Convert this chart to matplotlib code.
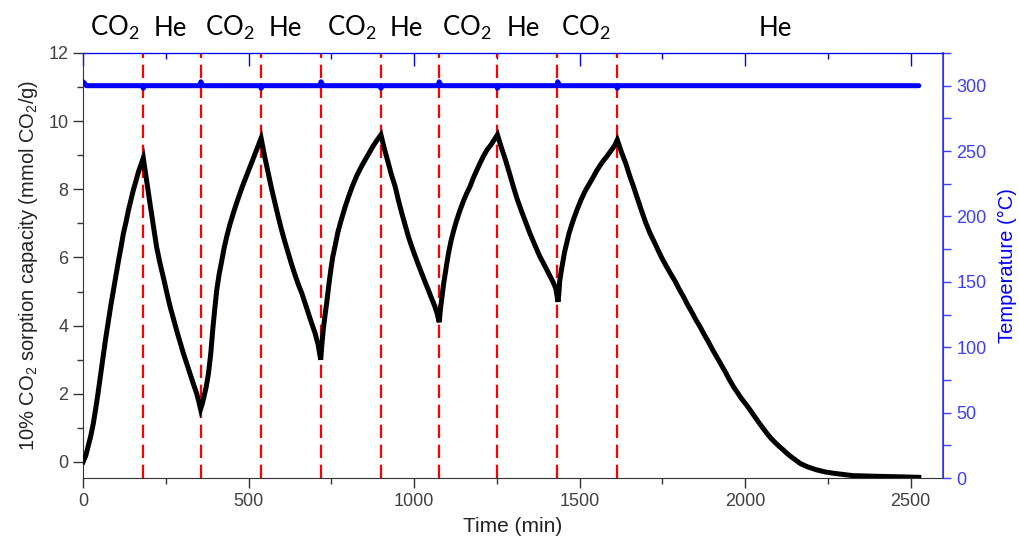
import numpy as np
import matplotlib
matplotlib.use("Agg")
import matplotlib.pyplot as plt
from matplotlib.ticker import MultipleLocator
import matplotlib.transforms as mtransforms

plt.rcParams['font.family'] = ['Liberation Sans', 'DejaVu Sans']

## sorption capacity (mmol CO2/g) versus time (min)
sorp_time = [0, 8, 15, 23, 31, 38, 45, 53, 61, 68, 76, 84, 92, 100, 107, 115, 122, 130, 137,
             145, 152, 160, 167, 175, 182,
             192, 202, 212, 222, 232, 243, 253, 263, 273, 283, 293, 303, 313, 323, 333, 343, 349, 355,
             360, 365, 372, 379, 386, 392, 398, 404, 411, 419, 426, 434, 444, 454, 464, 474, 482,
             490, 498, 505, 514, 522, 530, 538,
             549, 560, 570, 580, 590, 600, 610, 620, 630, 640, 650, 661, 671, 681, 691, 701, 710, 718,
             722, 726, 731, 736, 742, 748, 754, 761, 770, 780, 791, 802, 814, 827, 840, 852, 864,
             875, 888, 900,
             910, 920, 931, 943, 953, 963, 973, 983, 993, 1003, 1013, 1023, 1033, 1043, 1053,
             1063, 1070, 1076,
             1080, 1085, 1089, 1094, 1099, 1105, 1112, 1120, 1129, 1139, 1149, 1159, 1169, 1179,
             1189, 1199, 1209, 1220, 1232, 1242, 1252,
             1263, 1275, 1288, 1300, 1312, 1325, 1338, 1350, 1360, 1370, 1380, 1391, 1401, 1411,
             1420, 1428, 1435,
             1438, 1440, 1445, 1450, 1455, 1461, 1468, 1476, 1484, 1492, 1504, 1517, 1530, 1542,
             1552, 1562, 1572, 1582, 1591, 1600, 1607, 1614,
             1627, 1640, 1651, 1663, 1676, 1688, 1700, 1713, 1726, 1738, 1750, 1763, 1776, 1789,
             1801, 1814, 1826, 1839, 1851, 1864, 1876, 1889, 1901, 1914, 1927, 1940, 1952, 1965,
             1978, 1990, 2003, 2015, 2028, 2040, 2053, 2066, 2078, 2091, 2103, 2116, 2128, 2141,
             2154, 2166, 2179, 2191, 2204, 2216, 2229, 2241, 2254, 2267, 2283, 2300, 2326, 2360,
             2400, 2450, 2490, 2525]
sorp_vals = [0.0, 0.18, 0.45, 0.75, 1.13, 1.55, 2.0, 2.55, 3.09, 3.6, 4.1, 4.6, 5.05, 5.5, 5.9,
             6.32, 6.71, 7.05, 7.38, 7.7, 7.98, 8.25, 8.5, 8.72, 8.92,
             8.25, 7.6, 6.95, 6.32, 5.85, 5.4, 4.97, 4.56, 4.2, 3.85, 3.52, 3.19, 2.9, 2.6, 2.3,
             2.02, 1.8, 1.55,
             1.7, 1.9, 2.2, 2.6, 3.2, 3.9, 4.5, 5.05, 5.5, 5.9, 6.27, 6.61, 6.98, 7.3, 7.6, 7.88,
             8.1, 8.3, 8.5, 8.67, 8.9, 9.1, 9.3, 9.5,
             8.95, 8.45, 8.0, 7.59, 7.18, 6.8, 6.45, 6.12, 5.8, 5.5, 5.22, 4.95, 4.65, 4.35, 4.06,
             3.78, 3.45, 3.0,
             3.5, 3.9, 4.3, 4.66, 5.15, 5.6, 6.0, 6.32, 6.75, 7.1, 7.46, 7.78, 8.1, 8.4, 8.65, 8.86,
             9.06, 9.25, 9.44, 9.6,
             9.2, 8.85, 8.45, 8.08, 7.67, 7.3, 6.95, 6.61, 6.32, 6.05, 5.79, 5.54, 5.29, 5.05, 4.8,
             4.56, 4.35, 4.1,
             4.5, 4.88, 5.2, 5.52, 5.83, 6.17, 6.5, 6.8, 7.1, 7.39, 7.65, 7.88, 8.08, 8.33, 8.55,
             8.76, 8.96, 9.15, 9.3, 9.45, 9.6,
             9.25, 8.9, 8.48, 8.08, 7.7, 7.35, 7.02, 6.71, 6.48, 6.25, 6.03, 5.83, 5.64, 5.45,
             5.28, 5.1, 4.7,
             5.0, 5.3, 5.62, 5.9, 6.17, 6.42, 6.7, 6.95, 7.18, 7.39, 7.68, 7.95, 8.17, 8.37,
             8.55, 8.7, 8.84, 8.96, 9.08, 9.2, 9.3, 9.45,
             9.08, 8.75, 8.41, 8.08, 7.7, 7.35, 7.02, 6.71, 6.45, 6.2, 5.96, 5.73, 5.51, 5.3,
             5.07, 4.85, 4.62, 4.4, 4.18, 3.97, 3.75, 3.53, 3.31, 3.09, 2.87, 2.65, 2.43, 2.21,
             2.02, 1.85, 1.69, 1.53, 1.35, 1.18, 1.01, 0.84, 0.7, 0.57, 0.46, 0.35, 0.24, 0.14,
             0.05, -0.04, -0.1, -0.15, -0.19, -0.23, -0.26, -0.29, -0.31, -0.33, -0.35, -0.37,
             -0.4, -0.41, -0.42, -0.43, -0.44, -0.45]

## furnace temperature (C)
temp_time = [0, 4, 10, 180, 182, 185, 353, 356, 362, 536, 538, 541,
             716, 719, 725, 898, 900, 903, 1073, 1076, 1082, 1250, 1252, 1255,
             1431, 1434, 1440, 1612, 1614, 1617, 2525]
temp_vals = [303, 302, 300, 300, 298, 300, 300, 303, 300, 300, 298, 300,
             300, 303, 300, 300, 298, 300, 300, 303, 300, 300, 298, 300,
             300, 303, 300, 300, 298, 300, 300]

## gas switching times (min) and the gas fed in each step
switch_times = [182, 355, 538, 718, 900, 1075, 1250, 1433, 1612]
gas_labels = ['CO2', 'He', 'CO2', 'He', 'CO2', 'He', 'CO2', 'He', 'CO2', 'He']
gas_label_x = [97, 263, 444, 610, 813, 976, 1160, 1329, 1520, 2090]

blue = '#0000ff'
axis_blue = '#3d3dff'
tick_gray = '#404040'

fig = plt.figure(figsize=(10.19, 5.44), dpi=100)
ax = fig.add_axes([0.0815, 0.1213, 0.8439, 0.7813])
ax2 = ax.twinx()

ax.plot(sorp_time, sorp_vals, color='black', lw=3.6, solid_joinstyle='miter', zorder=3)
ax2.plot(temp_time, temp_vals, color=blue, lw=3.6, solid_capstyle='round', zorder=3)

for t in switch_times:
    ax.axvline(t, color='#ff0000', lw=1.6, dashes=(6, 3), zorder=2)

ax.set_xlim(0, 2598)
ax.set_ylim(-0.47, 12)
ax2.set_ylim(0, 325)

ax.xaxis.set_major_locator(MultipleLocator(500))
ax.xaxis.set_minor_locator(MultipleLocator(250))
ax.yaxis.set_major_locator(MultipleLocator(2))
ax.yaxis.set_minor_locator(MultipleLocator(1))
ax2.yaxis.set_major_locator(MultipleLocator(50))
ax2.yaxis.set_minor_locator(MultipleLocator(25))

ax.tick_params(axis='both', which='major', direction='out', length=7, width=1,
               labelsize=13, labelcolor=tick_gray, color='#333333')
ax.tick_params(axis='both', which='minor', direction='out', length=4, width=1, color='#333333')
ax.tick_params(axis='x', top=False)
ax2.tick_params(axis='y', which='major', direction='out', length=6, width=1,
                labelsize=13, colors=axis_blue)
ax2.tick_params(axis='y', which='minor', direction='out', length=6, width=1, colors=axis_blue)

# blue top frame with inward ticks
top = ax.secondary_xaxis('top')
top.xaxis.set_major_locator(MultipleLocator(500))
top.xaxis.set_minor_locator(MultipleLocator(250))
top.tick_params(which='major', direction='in', length=9, width=1, color=blue, labeltop=False)
top.tick_params(which='minor', direction='in', length=4, width=1, color=blue)
top.spines['top'].set_color(blue)

for s in ['left', 'bottom']:
    ax.spines[s].set_color('#333333')
ax2.spines['right'].set_color(axis_blue)
ax2.spines['right'].set_linewidth(1.2)
ax2.spines['top'].set_color(blue)
ax2.spines['left'].set_visible(False)
ax2.spines['bottom'].set_visible(False)

ax.set_xlabel('Time (min)', fontsize=15, color='#222222', labelpad=5)
ax.set_ylabel(r'10% CO$_\mathregular{2}$ sorption capacity (mmol CO$_\mathregular{2}$/g)',
              fontsize=14.5, color='#222222', labelpad=6)
ax2.set_ylabel('Temperature (°C)', fontsize=14.5, color=blue, labelpad=8)

trans = mtransforms.blended_transform_factory(ax.transData, ax.transAxes)
for x, g in zip(gas_label_x, gas_labels):
    txt = r'$\mathregular{CO_2}$' if g == 'CO2' else g
    ax.text(x, 1.058, txt, transform=trans, ha='center', va='center',
            fontsize=18.5, family=['Lato', 'DejaVu Sans'], color='black')

fig.savefig('out.png', dpi=100)
